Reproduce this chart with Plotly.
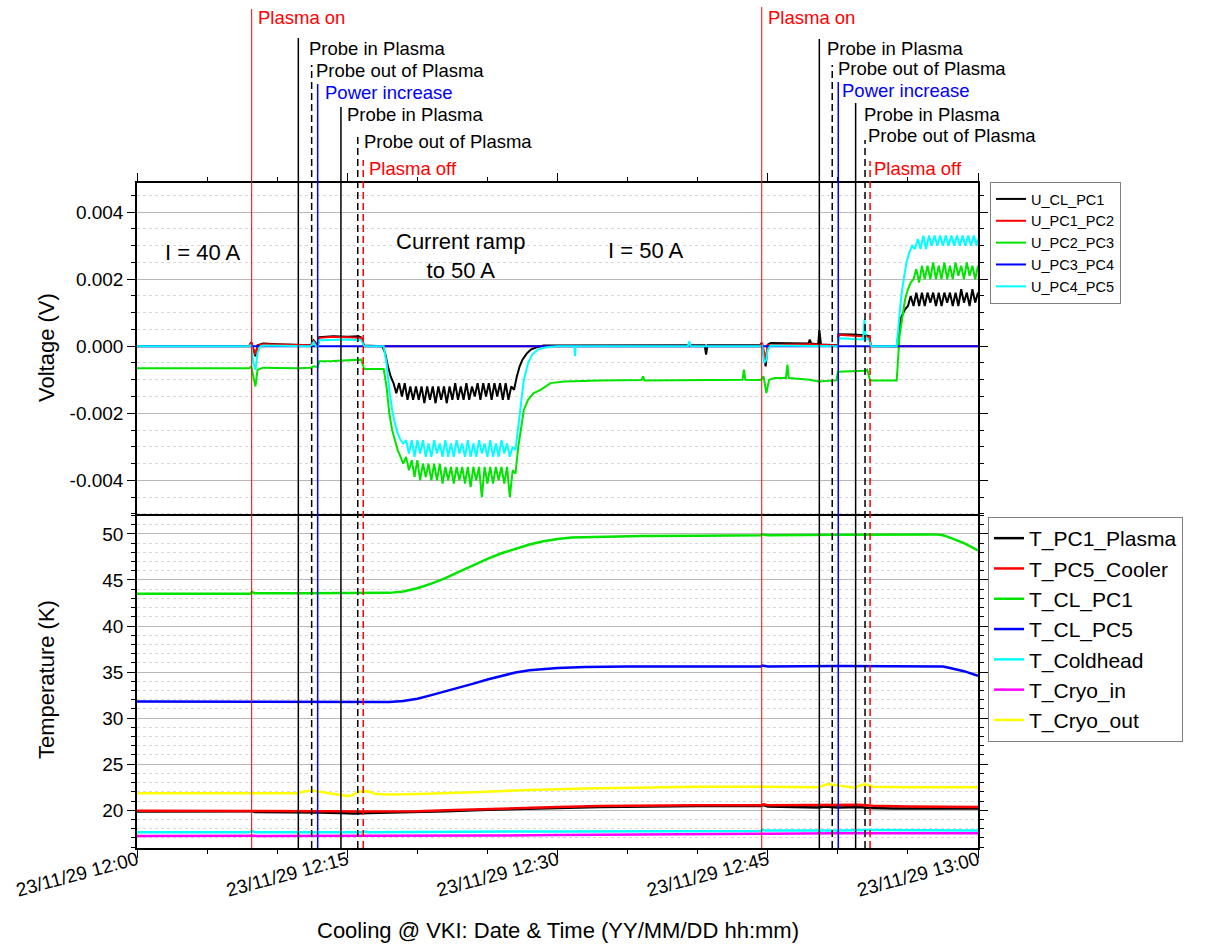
import pandas as pd
import plotly.graph_objects as go
from plotly.subplots import make_subplots

BASE = pd.Timestamp("2023-11-29 12:00")

# ---------------- Voltage data (minutes after 12:00, volts) ----------------
U_CL_PC1_T = [0, 8.0, 8.15, 8.3, 8.45, 8.6, 9.0, 10.0, 11.5, 12.4, 12.6, 12.8, 12.9, 13.0, 14.0, 15.0, 15.8, 16.0, 16.2, 17.5,
              17.7, 17.9, 18.1, 18.3, 18.5, 18.7, 18.9, 19.1, 19.3, 19.5, 19.7, 19.9, 20.1, 20.3, 20.5, 20.7, 20.9, 21.1,
              21.3, 21.5, 21.7, 21.9, 22.1, 22.3, 22.5, 22.7, 22.9, 23.1, 23.3, 23.5, 23.7, 23.9, 24.1, 24.3, 24.5, 24.7,
              24.9, 25.1, 25.3, 25.5, 25.7, 25.9, 26.1, 26.3, 26.5, 26.7, 26.9, 27.1, 27.3, 27.5, 27.8, 28.1, 28.5, 29.0,
              35.0, 40.5, 40.6, 40.7, 44.5, 44.55, 44.7, 44.85, 45.0, 45.2, 47.9, 48.0, 48.1, 48.6, 48.68, 48.8, 50.0,
              50.05, 51.0, 52.0, 52.25, 52.35, 54.2, 54.35, 54.5, 54.8, 55.0, 55.2, 55.4, 55.6, 55.8, 56.0, 56.2, 56.4,
              56.6, 56.8, 57.0, 57.2, 57.4, 57.6, 57.8, 58.0, 58.2, 58.4, 58.6, 58.8, 59.0, 59.2, 59.4, 59.6, 59.8, 60.0]
U_CL_PC1_V = [0.00001, 0.00001, 0.00012, -0.0001, -0.0003, 0.00003, 0.00008, 0.00006, 0.00004, 0.00003, 0.00018, 0.00005,
              0.00002, 0.00027, 0.00030, 0.00028, 0.00030, 0.00026, 0.00002, 0.0,
              -0.0002, -0.0006, -0.0009, -0.0011, -0.0014, -0.0011, -0.0015, -0.0011, -0.0016, -0.0012, -0.0016, -0.0012,
              -0.0016, -0.0012, -0.0017, -0.0012, -0.0016, -0.0012, -0.0017, -0.0012, -0.0016, -0.0012, -0.0017, -0.0012,
              -0.0016, -0.0011, -0.0016, -0.0012, -0.0016, -0.0011, -0.0016, -0.0012, -0.0015, -0.0011, -0.0016, -0.0011,
              -0.0015, -0.0011, -0.0016, -0.0011, -0.0015, -0.0011, -0.0016, -0.0011, -0.0016, -0.0012, -0.0013, -0.0009,
              -0.0006, -0.0004, -0.00022, -0.0001, -0.00003, 0.00002,
              0.00003, 0.00003, -0.00025, 0.00003, 0.00003, 0.0001, -0.0002, -0.0006, 0.00005, 0.0001, 0.00008, 0.0002,
              0.00008, 0.00006, 0.00048, 0.00005, 0.00003,
              0.00036, 0.00035, 0.00033, 0.0003, 0.00001, 0.0, 0.0005, 0.00085, 0.0011, 0.0012, 0.0015, 0.0012, 0.0016,
              0.0012, 0.0016, 0.0012, 0.0016, 0.0013, 0.0016, 0.0012, 0.0016, 0.0012, 0.0016, 0.0013, 0.0016, 0.0012,
              0.0016, 0.0012, 0.0017, 0.0013, 0.0016, 0.0012, 0.0017, 0.0013, 0.0016]

U_PC1_PC2_T = [0, 8.0, 8.15, 8.3, 8.45, 8.6, 9.0, 12.4, 12.6, 12.8, 12.9, 13.0, 14.0, 15.0, 16.0, 16.2, 44.5, 44.6, 44.85,
               45.0, 48.0, 50.0, 50.05, 52.25, 52.35, 60.0]
U_PC1_PC2_V = [0.0, 0.0, 0.0001, -0.0001, -0.00025, 0.00002, 0.00006, 0.00003, 0.00015, 0.00004, 0.00002, 0.00025,
               0.00028, 0.00027, 0.00025, 0.0, 0.0, 0.0001, -0.0004, 0.00004, 0.00006, 0.00002, 0.00034, 0.00028, 0.0, 0.0]

U_PC2_PC3_T = [0, 8.0, 8.15, 8.3, 8.45, 8.6, 9.0, 10.0, 11.5, 12.4, 12.6, 12.9, 13.0, 14.0, 15.0, 16.0, 16.2, 17.6, 17.8,
               18.0, 18.2, 18.4, 18.6, 18.8, 19.0, 19.2, 19.4, 19.6, 19.8, 20.0, 20.2, 20.4, 20.6, 20.8, 21.0, 21.2, 21.4,
               21.6, 21.8, 22.0, 22.2, 22.4, 22.6, 22.8, 23.0, 23.2, 23.4, 23.6, 23.8, 24.0, 24.2, 24.4, 24.6, 24.8, 25.0,
               25.2, 25.4, 25.6, 25.8, 26.0, 26.2, 26.4, 26.6, 26.8, 27.0, 27.2, 27.4, 27.6, 27.9, 28.3, 28.8, 29.5, 30.5,
               33.0, 36.0, 36.1, 36.2, 40.0, 43.2, 43.3, 43.4, 44.5, 44.7, 44.9, 45.1, 45.5, 46.3, 46.4, 46.5, 48.0, 48.6,
               49.9, 50.0, 52.0, 52.1, 52.3, 54.2, 54.4, 54.6, 54.8, 55.0, 55.2, 55.4, 55.6, 55.8, 56.0, 56.2, 56.4, 56.6,
               56.8, 57.0, 57.2, 57.4, 57.6, 57.8, 58.0, 58.2, 58.4, 58.6, 58.8, 59.0, 59.2, 59.4, 59.6, 59.8, 60.0]
U_PC2_PC3_V = [-0.00066, -0.00066, -0.0006, -0.0009, -0.0012, -0.0007, -0.00064, -0.00065, -0.00066, -0.00064, -0.0006,
               -0.00062, -0.00045, -0.00044, -0.00043, -0.0004, -0.00068, -0.00068, -0.0012,
               -0.0020, -0.0025, -0.0028, -0.0031, -0.0033, -0.0035, -0.0033, -0.0037, -0.0034, -0.0039, -0.0034, -0.0040,
               -0.0035, -0.0039, -0.0035, -0.0040, -0.0035, -0.0040, -0.0035, -0.0041, -0.0036, -0.0040, -0.0036, -0.0041,
               -0.0036, -0.0040, -0.0036, -0.0041, -0.0036, -0.0042, -0.0036, -0.0040, -0.0036, -0.0045, -0.0036, -0.0041,
               -0.0036, -0.0041, -0.0036, -0.0040, -0.0036, -0.0041, -0.0036, -0.0045, -0.0037, -0.0038, -0.0030, -0.0024,
               -0.0019, -0.0016, -0.0014, -0.0013, -0.0011, -0.00105,
               -0.00102, -0.00101, -0.0009, -0.00102, -0.0010, -0.0010, -0.0007, -0.0010, -0.00101, -0.0009, -0.0014,
               -0.0010, -0.00095, -0.00095, -0.00055, -0.00095, -0.0010, -0.00105,
               -0.00102, -0.00076, -0.00073, -0.0007, -0.00102, -0.00102, 0.0003, 0.0009, 0.0014, 0.0017, 0.0019, 0.0020,
               0.0023, 0.0019, 0.0024, 0.0020, 0.0024, 0.0020, 0.0025, 0.0020, 0.0024, 0.0020, 0.0025, 0.0020, 0.0024,
               0.0020, 0.0025, 0.0021, 0.0024, 0.0020, 0.0025, 0.0021, 0.0024, 0.0020, 0.0024]

U_PC3_PC4_T = [0, 30.0, 60.0]
U_PC3_PC4_V = [0.0, 0.0, 0.0]

U_PC4_PC5_T = [0, 8.0, 8.15, 8.3, 8.45, 8.6, 8.8, 9.0, 12.4, 12.6, 12.8, 12.9, 13.0, 14.0, 15.0, 16.0, 16.2, 17.6, 17.8,
               18.0, 18.2, 18.4, 18.6, 18.8, 19.0, 19.2, 19.4, 19.6, 19.8, 20.0, 20.2, 20.4, 20.6, 20.8, 21.0, 21.2, 21.4,
               21.6, 21.8, 22.0, 22.2, 22.4, 22.6, 22.8, 23.0, 23.2, 23.4, 23.6, 23.8, 24.0, 24.2, 24.4, 24.6, 24.8, 25.0,
               25.2, 25.4, 25.6, 25.8, 26.0, 26.2, 26.4, 26.6, 26.8, 27.0, 27.2, 27.4, 27.6, 27.9, 28.2, 28.6, 29.2, 30.0,
               31.2, 31.25, 31.3, 39.3, 39.4, 39.5, 44.5, 44.6, 44.75, 44.9, 45.0, 45.2, 49.9, 50.0, 50.05, 51.5, 51.8,
               51.9, 52.0, 52.25, 52.35, 54.2, 54.35, 54.5, 54.7, 54.9, 55.1, 55.3, 55.5, 55.7, 55.9, 56.1, 56.3, 56.5,
               56.7, 56.9, 57.1, 57.3, 57.5, 57.7, 57.9, 58.1, 58.3, 58.5, 58.7, 58.9, 59.1, 59.3, 59.5, 59.7, 59.9, 60.0]
U_PC4_PC5_V = [0.0, 0.0, 0.00005, -0.0005, -0.0007, -0.0002, 0.0, 0.00002, 0.0, 0.00012, -0.00002, 0.0, 0.00018, 0.0002,
               0.0002, 0.00018, 0.0, 0.0, -0.0005,
               -0.0013, -0.0019, -0.0023, -0.0026, -0.0028, -0.0029, -0.0028, -0.0032, -0.0028, -0.0033, -0.0028, -0.0032,
               -0.0028, -0.0033, -0.0029, -0.0033, -0.0028, -0.0032, -0.0029, -0.0033, -0.0028, -0.0033, -0.0029, -0.0033,
               -0.0028, -0.0032, -0.0029, -0.0033, -0.0028, -0.0033, -0.0029, -0.0033, -0.0028, -0.0032, -0.0029, -0.0033,
               -0.0028, -0.0033, -0.0029, -0.0033, -0.0028, -0.0032, -0.0029, -0.0033, -0.0030, -0.0031, -0.0024, -0.0016,
               -0.0010, -0.0005, -0.00025, -0.0001, -0.00003, 0.0,
               0.0, -0.0003, 0.0, 0.0, 0.00015, 0.0, 0.0, 0.00005, -0.0005, -0.0004, -0.0001, 0.00002, 0.0, 0.0, 0.00024,
               0.00022, 0.0002, 0.0008, 0.0002, 0.0002, 0.0, 0.0, 0.0008, 0.0014, 0.0020, 0.0025, 0.0028, 0.0030, 0.0029,
               0.0032, 0.0029, 0.0033, 0.0029, 0.0033, 0.0030, 0.0033, 0.0030, 0.0033, 0.0030, 0.0033, 0.0030, 0.0033,
               0.0030, 0.0033, 0.0030, 0.0033, 0.0030, 0.0033, 0.0030, 0.0033, 0.0030, 0.0032]

# ---------------- Temperature data (minutes after 12:00, kelvin) ----------------
T_PC1_PLASMA_T = [0, 8, 8.2, 8.4, 11.5, 13, 14.5, 15.5, 16.5, 18, 20, 22, 25, 28, 30, 33, 36, 40, 44.5, 44.7, 45, 47,
                  48.7, 49, 50, 51.5, 52.3, 54, 57, 60]
T_PC1_PLASMA_K = [19.85, 19.85, 19.9, 19.8, 19.8, 19.75, 19.7, 19.65, 19.7, 19.75, 19.8, 19.9, 20.05, 20.2, 20.25, 20.35,
                  20.4, 20.45, 20.45, 20.55, 20.4, 20.35, 20.3, 20.4, 20.3, 20.35, 20.25, 20.2, 20.2, 20.2]

T_PC5_COOLER_T = [0, 8, 11.5, 14, 16, 18, 20, 22, 25, 28, 30, 33, 36, 40, 44.5, 44.7, 45, 50, 51.5, 52.5, 55, 60]
T_PC5_COOLER_K = [19.95, 19.95, 19.9, 19.9, 19.85, 19.85, 19.9, 20.0, 20.15, 20.3, 20.35, 20.45, 20.5, 20.55, 20.55,
                  20.65, 20.55, 20.55, 20.6, 20.5, 20.4, 20.35]

T_CL_PC1_T = [0, 8.1, 8.2, 8.4, 12, 16, 18, 19, 20, 21, 22, 23, 24, 25, 26, 27, 28, 29, 30, 31, 33, 36, 40, 44.5, 44.6,
              45, 50, 55, 57, 57.5, 58, 59, 60]
T_CL_PC1_K = [43.5, 43.5, 43.7, 43.55, 43.55, 43.6, 43.6, 43.75, 44.1, 44.6, 45.2, 45.9, 46.6, 47.3, 47.9, 48.4, 48.85,
              49.2, 49.45, 49.6, 49.7, 49.78, 49.8, 49.85, 49.95, 49.85, 49.9, 49.95, 49.95, 49.85, 49.6, 49.0, 48.2]

T_CL_PC5_T = [0, 8, 12, 16, 18, 19, 20, 21, 22, 23, 24, 25, 26, 27, 28, 29, 30, 32, 35, 40, 44.5, 44.6, 45, 50, 55,
              57.5, 58, 59, 60]
T_CL_PC5_K = [31.8, 31.8, 31.75, 31.75, 31.75, 31.85, 32.1, 32.5, 32.9, 33.3, 33.75, 34.2, 34.6, 34.95, 35.2, 35.35,
              35.45, 35.55, 35.6, 35.6, 35.6, 35.7, 35.6, 35.65, 35.65, 35.6, 35.45, 35.1, 34.6]

T_COLDHEAD_T = [0, 8, 8.2, 8.4, 16, 16.2, 16.5, 20, 30, 40, 44.5, 44.6, 44.8, 50, 52, 60]
T_COLDHEAD_K = [17.6, 17.6, 17.75, 17.6, 17.6, 17.7, 17.6, 17.65, 17.7, 17.75, 17.75, 17.9, 17.8, 17.8, 17.85, 17.8]

T_CRYO_IN_T = [0, 10, 20, 25, 30, 40, 45, 50, 55, 60]
T_CRYO_IN_K = [17.2, 17.2, 17.2, 17.25, 17.3, 17.35, 17.45, 17.5, 17.5, 17.5]

T_CRYO_OUT_T = [0, 8, 11.5, 11.8, 12.5, 13.5, 15, 15.3, 15.8, 16.5, 17, 18, 20, 24, 28, 32, 36, 40, 44.5, 48.6, 49.3,
                50, 51.2, 51.9, 52.5, 55, 60]
T_CRYO_OUT_K = [21.85, 21.85, 21.85, 22.0, 22.15, 21.9, 21.55, 21.6, 22.0, 22.05, 21.75, 21.7, 21.75, 21.95, 22.2,
                22.35, 22.45, 22.55, 22.55, 22.5, 22.85, 22.7, 22.45, 22.85, 22.55, 22.5, 22.5]

# ---------------- Events ----------------
EVENT_MIN = [8.18, 11.51, 12.46, 12.89, 14.55, 15.75, 16.14, 44.57, 48.68, 49.60, 50.03, 51.27, 51.94, 52.30]
EVENT_LABEL = ["Plasma on", "Probe in Plasma", "Probe out of Plasma", "Power increase", "Probe in Plasma",
               "Probe out of Plasma", "Plasma off"] * 2
EVENT_KIND = ["on", "in", "out", "power", "in", "out", "off"] * 2

# Text annotations in the voltage panel
NOTE_TEXT = ["I = 40 A", "Current ramp<br>to 50 A", "I = 50 A"]
NOTE_MIN = [1.85, 23.1, 36.3]
NOTE_V = [0.0028, 0.00269, 0.00287]

V_TICKS = [-0.004, -0.002, 0.0, 0.002, 0.004]
V_TICK_TEXT = ["-0.004", "-0.002", "0.000", "0.002", "0.004"]

# ---------------- styling / layout ----------------
FONT = "Liberation Sans, Arial, sans-serif"
W, H = 1225, 944
ML, MR, MT, MB = 137, 247, 183, 96
PH = H - MT - MB
PW = W - ML - MR

KIND_STYLE = {
    "on": dict(color="#ff0000", dash="solid", width=1),
    "in": dict(color="#000000", dash="solid", width=1.5),
    "out": dict(color="#000000", dash="7px,4px", width=1.5),
    "power": dict(color="#0000ff", dash="solid", width=1.5),
    "off": dict(color="#ff0000", dash="7px,4px", width=1.5),
}
LINE_TOP_PX = [9, 38, 65, 84, 107, 135, 160, 7, 39, 65, 82, 103, 140, 161]
LABEL_Y_PX = [18, 49, 71, 92, 114, 142, 169, 17, 49, 69, 90, 114, 135, 168]
LABEL_DX = [5, 10, 3, 6, 5, 5, 5, 5, 7, 5, 3, 7, 2, 3]


def to_time(mins):
    return [(BASE + pd.Timedelta(minutes=m)).strftime("%Y-%m-%d %H:%M:%S.%f") for m in mins]


def py(px):
    return (H - MB - px) / PH


fig = make_subplots(rows=2, cols=1, shared_xaxes=True, vertical_spacing=0)

volt_series = [
    ("U_CL_PC1", U_CL_PC1_T, U_CL_PC1_V, "#000000"),
    ("U_PC1_PC2", U_PC1_PC2_T, U_PC1_PC2_V, "#ff0000"),
    ("U_PC2_PC3", U_PC2_PC3_T, U_PC2_PC3_V, "#00e400"),
    ("U_PC3_PC4", U_PC3_PC4_T, U_PC3_PC4_V, "#0000ff"),
    ("U_PC4_PC5", U_PC4_PC5_T, U_PC4_PC5_V, "#00ffff"),
]
for name, t, v, c in volt_series:
    fig.add_trace(go.Scatter(x=to_time(t), y=v, name=name, mode="lines",
                             line=dict(color=c, width=2), legend="legend"), row=1, col=1)

temp_series = [
    ("T_PC1_Plasma", T_PC1_PLASMA_T, T_PC1_PLASMA_K, "#000000"),
    ("T_PC5_Cooler", T_PC5_COOLER_T, T_PC5_COOLER_K, "#ff0000"),
    ("T_CL_PC1", T_CL_PC1_T, T_CL_PC1_K, "#00e400"),
    ("T_CL_PC5", T_CL_PC5_T, T_CL_PC5_K, "#0000ff"),
    ("T_Coldhead", T_COLDHEAD_T, T_COLDHEAD_K, "#00ffff"),
    ("T_Cryo_in", T_CRYO_IN_T, T_CRYO_IN_K, "#ff00ff"),
    ("T_Cryo_out", T_CRYO_OUT_T, T_CRYO_OUT_K, "#ffff00"),
]
for name, t, k, c in temp_series:
    fig.add_trace(go.Scatter(x=to_time(t), y=k, name=name, mode="lines",
                             line=dict(color=c, width=2.5), legend="legend2"), row=2, col=1)

ev_times = to_time(EVENT_MIN)
for i, tm in enumerate(ev_times):
    st = KIND_STYLE[EVENT_KIND[i]]
    fig.add_shape(type="line", xref="x", yref="paper", x0=tm, x1=tm, y0=0, y1=py(LINE_TOP_PX[i]),
                  line=dict(color=st["color"], width=st["width"], dash=st["dash"]), layer="above")
    fig.add_annotation(x=tm, xref="x", y=py(LABEL_Y_PX[i]), yref="paper", text=EVENT_LABEL[i],
                       showarrow=False, xanchor="left", yanchor="middle", xshift=LABEL_DX[i], borderpad=0,
                       font=dict(family=FONT, size=18.5, color=st["color"]))

note_times = to_time(NOTE_MIN)
for i, txt in enumerate(NOTE_TEXT):
    fig.add_annotation(x=note_times[i], y=NOTE_V[i], xref="x", yref="y", text=txt, showarrow=False,
                       xanchor="left" if i == 0 else "center", yanchor="middle",
                       font=dict(family=FONT, size=22, color="#000000"))

# axis titles as annotations
fig.add_annotation(x=(46 - ML) / PW, y=py(348), xref="paper", yref="paper", text="Voltage (V)", textangle=-90,
                   xanchor="center", yanchor="middle",
                   showarrow=False, font=dict(family=FONT, size=22, color="#000"))
fig.add_annotation(x=(46 - ML) / PW, y=py(680), xref="paper", yref="paper", text="Temperature (K)", textangle=-90,
                   xanchor="center", yanchor="middle",
                   showarrow=False, font=dict(family=FONT, size=22, color="#000"))
fig.add_annotation(x=(558 - ML) / PW, y=py(930), xref="paper", yref="paper",
                   text="Cooling @ VKI: Date & Time (YY/MM/DD hh:mm)", xanchor="center", yanchor="middle",
                   showarrow=False, font=dict(family=FONT, size=22, color="#000"))

xr = to_time([0, 60])
common_x = dict(range=xr, type="date", dtick=15 * 60 * 1000, tick0=xr[0], showgrid=False, zeroline=False,
                showline=True, linecolor="#000", linewidth=1.5, ticks="outside", ticklen=8, tickcolor="#000",
                minor=dict(dtick=5 * 60 * 1000, ticks="outside", ticklen=4, tickcolor="#000", showgrid=False))
fig.update_xaxes(**common_x)
fig.update_xaxes(row=1, col=1, side="top", mirror=False, showticklabels=False)
fig.update_xaxes(row=2, col=1, mirror=True, showticklabels=True, tickformat="%y/%m/%d %H:%M", tickangle=-15,
                 ticklabelstandoff=-16, tickfont=dict(family=FONT, size=19, color="#000"))

common_y = dict(showline=True, linecolor="#000", linewidth=1.5, mirror="ticks", ticks="outside", ticklen=8,
                tickcolor="#000", zeroline=False, showgrid=True, gridcolor="#b8b8b8", gridwidth=1,
                tickfont=dict(family=FONT, size=19, color="#000"))
fig.update_yaxes(row=1, col=1, range=[-0.00505, 0.00487], tickmode="array", tickvals=V_TICKS, ticktext=V_TICK_TEXT,
                 minor=dict(dtick=0.0005, tick0=0, ticks="outside", ticklen=4, tickcolor="#000", showgrid=True,
                            gridcolor="#d8d8d8", griddash="dot"), **common_y)
fig.update_yaxes(row=2, col=1, range=[15.9, 52], dtick=5, tick0=0,
                 minor=dict(dtick=1, tick0=0, ticks="outside", ticklen=4, tickcolor="#000", showgrid=True,
                            gridcolor="#d8d8d8", griddash="dot"), **common_y)

fig.update_layout(
    width=W, height=H, margin=dict(l=ML, r=MR, t=MT, b=MB, autoexpand=False),
    paper_bgcolor="#ffffff", plot_bgcolor="#ffffff",
    font=dict(family=FONT, color="#000"),
    legend=dict(x=(990 - ML) / PW, y=py(182), xanchor="left", yanchor="top", bordercolor="#808080", borderwidth=1,
                font=dict(family=FONT, size=14.5, color="#000"), tracegroupgap=0, bgcolor="#fff"),
    legend2=dict(x=(988 - ML) / PW, y=py(517), xanchor="left", yanchor="top", bordercolor="#808080", borderwidth=1,
                 font=dict(family=FONT, size=21, color="#000"), tracegroupgap=0, bgcolor="#fff"),
    showlegend=True,
)

fig.write_html("out.html", config={"displayModeBar": False},
               post_script="document.body.style.margin='0';document.body.style.overflow='hidden';")
